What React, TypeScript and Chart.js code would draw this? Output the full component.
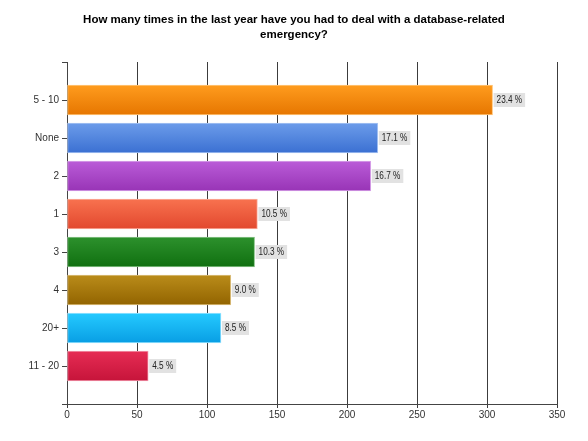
import React, { useEffect, useRef } from "react";
import { Chart, registerables } from "chart.js";

Chart.register(...registerables);

const categories = ["5 - 10", "None", "2", "1", "3", "4", "20+", "11 - 20"];
const counts = [304, 222, 217, 136, 134, 117, 110, 58];
const percents = [23.4, 17.1, 16.7, 10.5, 10.3, 9.0, 8.5, 4.5];
const xTicks = [0, 50, 100, 150, 200, 250, 300, 350];
const titleLines = [
  "How many times in the last year have you had to deal with a database-related",
  "emergency?",
];

const topColors = ["#ff9c1e", "#6c9cea", "#ba5cd8", "#f8724f", "#2d912d", "#ba8c1a", "#25caff", "#e62c54"];
const bottomColors = ["#e67600", "#3b70d2", "#9834b6", "#e2482e", "#107010", "#926400", "#089ee4", "#c6143a"];
const borderColors = ["#ffc880", "#a8c4f2", "#d9a6ea", "#fbb0a0", "#8cc48c", "#dcc080", "#9ee4ff", "#f29aae"];

const FONT = "'Liberation Sans', Arial, sans-serif";
const BAR_THICK = 30;

export default function App() {
  const ref = useRef<HTMLCanvasElement>(null);
  useEffect(() => {
    if (!ref.current) return;
    const labelPlugin = {
      id: "pctLabels",
      afterDatasetsDraw(chart: any) {
        const { ctx } = chart;
        const meta = chart.getDatasetMeta(0);
        const sx = 0.82;
        ctx.save();
        ctx.font = "10px " + FONT;
        ctx.textBaseline = "middle";
        meta.data.forEach((el: any, i: number) => {
          const text = percents[i].toFixed(1) + " %";
          const w = ctx.measureText(text).width * sx;
          const x0 = el.x + 1;
          const y0 = el.y;
          ctx.fillStyle = "#e2e2e2";
          ctx.fillRect(x0, y0 - 7, w + 6, 14);
          ctx.fillStyle = "#222";
          ctx.save();
          ctx.translate(x0 + 3, y0 + 0.5);
          ctx.scale(sx, 1);
          ctx.fillText(text, 0, 0);
          ctx.restore();
        });
        ctx.restore();
      },
    };
    const chart = new Chart(ref.current, {
      type: "bar",
      data: {
        datasets: [
          {
            data: counts.map((c, i) => ({ x: c, y: i })) as any,
            backgroundColor: (c: any) => {
              const i = c.dataIndex ?? 0;
              if (c.type !== "data") return topColors[i];
              const ys = c.chart.scales.y;
              if (!ys) return topColors[i];
              const yc = ys.getPixelForValue(i);
              if (!isFinite(yc)) return topColors[i];
              const g = c.chart.ctx.createLinearGradient(0, yc - BAR_THICK / 2, 0, yc + BAR_THICK / 2);
              g.addColorStop(0, topColors[i]);
              g.addColorStop(1, bottomColors[i]);
              return g;
            },
            borderColor: borderColors,
            borderWidth: 1,
            borderSkipped: false,
            barThickness: BAR_THICK,
          },
        ],
      },
      options: {
        indexAxis: "y",
        responsive: false,
        animation: false,
        events: [],
        layout: { padding: { left: 0, right: 0, top: 0, bottom: 0 } },
        plugins: {
          legend: { display: false },
          tooltip: { enabled: false },
          title: {
            display: true,
            text: titleLines,
            color: "#000",
            font: { size: 11.5, weight: "bold", family: FONT, lineHeight: "14.5px" } as any,
            padding: { top: 5, bottom: 20 },
          },
        },
        scales: {
          x: {
            type: "linear",
            min: 0,
            max: 350,
            offset: false,
            afterBuildTicks: (s: any) => {
              s.ticks = xTicks.map((v) => ({ value: v }));
            },
            afterFit: (s: any) => {
              s.height = 29;
            },
            ticks: { color: "#333", font: { size: 10, family: FONT }, padding: 1, maxRotation: 0 },
            grid: { drawOnChartArea: true, drawTicks: true, tickLength: 4, color: "#3c3c3c", offset: false },
            border: { display: true, color: "#444" },
          },
          y: {
            type: "linear",
            min: -1,
            max: 8,
            reverse: true,
            offset: false,
            afterBuildTicks: (s: any) => {
              const t = [];
              for (let v = -1; v <= categories.length; v++) t.push({ value: v });
              s.ticks = t;
            },
            afterFit: (s: any) => {
              s.width = 59;
            },
            ticks: {
              color: "#333",
              font: { size: 10, family: FONT },
              padding: 3,
              callback: (v: any) => categories[v] ?? "",
            },
            grid: { drawOnChartArea: false, drawTicks: true, tickLength: 5, color: "#444", offset: false },
            border: { display: true, color: "#444" },
          },
          yRight: {
            type: "linear",
            position: "right",
            display: true,
            min: 0,
            max: 1,
            afterFit: (s: any) => {
              s.width = 23;
            },
            ticks: { display: false },
            grid: { display: false, drawTicks: false },
            border: { display: false },
          },
        },
      } as any,
      plugins: [labelPlugin],
    });
    return () => chart.destroy();
  }, []);
  return <canvas ref={ref} width={572} height={425} style={{ display: "block" }} />;
}
